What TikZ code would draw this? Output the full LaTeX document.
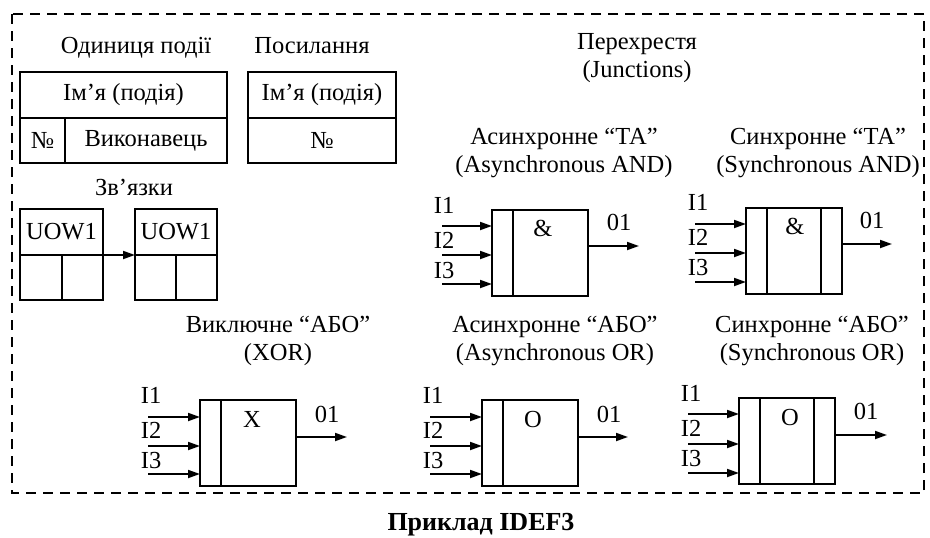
\documentclass[tikz,border=0pt]{standalone}
\usepackage{fontspec}
\setmainfont{Liberation Serif}
\usetikzlibrary{positioning, arrows.meta}

\begin{document}
\begin{tikzpicture}[
        x=1pt, y=-1pt,
        font=\fontsize{24.5}{28}\selectfont,
        >={Triangle[length=12pt, width=8pt]},
        line width=1.8pt,
        cell/.style={rectangle, draw, inner sep=0pt, outer sep=0pt},
        gate/.style={rectangle, draw, inner sep=0pt, outer sep=0pt, minimum width=96pt, minimum height=86pt},
        caption/.style={align=center, inner sep=0pt, anchor=base},
        lbl/.style={inner sep=0pt},
        frame/.style={dash pattern=on 10pt off 7pt},
        arrow/.style={->}
    ]
        \useasboundingbox (0,0) rectangle (930,538);

        % Frame and title
        \draw[frame] (12,14) rectangle (924,493);
        \node[caption, font=\fontsize{26}{30}\selectfont\bfseries] (title) at (481,530) {Приклад IDEF3};

        % Unit of work
        \node[caption] (uow-cap) at (136,53) {Одиниця події};
        \node[cell, minimum width=207pt, minimum height=46pt, anchor=north west] (uow-name) at (20,72) {Ім’я (подія)};
        \node[cell, minimum width=45pt, minimum height=45pt, anchor=north west] (uow-num) at (uow-name.south west) {№};
        \node[cell, minimum width=162pt, minimum height=45pt, anchor=north west] (uow-who) at (uow-num.north east) {Виконавець};

        % Reference
        \node[caption] (ref-cap) at (312,53) {Посилання};
        \node[cell, minimum width=148pt, minimum height=46pt, anchor=north west] (ref-name) at (248,72) {Ім’я (подія)};
        \node[cell, minimum width=148pt, minimum height=45pt, anchor=north] (ref-num) at (ref-name.south) {№};

        % Links
        \node[caption] (link-cap) at (134,195) {Зв’язки};
        \node[cell, minimum width=83pt, minimum height=46pt, anchor=north west] (src-name) at (20,209) {UOW1};
        \node[cell, minimum width=42pt, minimum height=45pt, anchor=north west] (src-a) at (src-name.south west) {};
        \node[cell, minimum width=41pt, minimum height=45pt, anchor=north west] (src-b) at (src-a.north east) {};
        \node[cell, minimum width=82pt, minimum height=46pt, anchor=north west] (dst-name) at (135,209) {UOW1};
        \node[cell, minimum width=41pt, minimum height=45pt, anchor=north west] (dst-a) at (dst-name.south west) {};
        \node[cell, minimum width=41pt, minimum height=45pt, anchor=north west] (dst-b) at (dst-a.north east) {};
        \draw[arrow] (src-name.south east) -- (dst-name.south west);

        % Junctions
        \node[caption] (junc-cap) at (637,77) {Перехрестя\\(Junctions)};

        % Asynchronous AND
        \node[caption] (and-a-cap) at (564,172) {Асинхронне “ТА”\\(Asynchronous AND)};
        \node[gate, anchor=north west] (and-a) at (492,210) {};
        \draw ([xshift=21pt]and-a.north west) -- ([xshift=21pt]and-a.south west);
        \node[lbl, anchor=base] (and-a-sym) at ([shift={(51,26)}]and-a.north west) {\&};
        \foreach \i/\ya/\yl in {1/16/3, 2/45/38, 3/74/68} {
            \coordinate (and-a-in\i) at ([shift={(-50,\ya)}]and-a.north west);
            \node[lbl, anchor=base west] (and-a-l\i) at ([shift={(-59,\yl)}]and-a.north west) {I\i};
            \draw[arrow] (and-a-in\i) -- (and-a-in\i -| and-a.west);
        }
        \coordinate (and-a-out) at ([shift={(51,36)}]and-a.north east);
        \draw[arrow] (and-a-out -| and-a.east) -- (and-a-out);
        \node[lbl, anchor=base west] (and-a-o) at ([shift={(18,20)}]and-a.north east) {01};

        % Synchronous AND
        \node[caption] (and-s-cap) at (818,172) {Синхронне “ТА”\\(Synchronous AND)};
        \node[gate, anchor=north west] (and-s) at (746,208) {};
        \draw ([xshift=21pt]and-s.north west) -- ([xshift=21pt]and-s.south west);
        \draw ([xshift=-21pt]and-s.north east) -- ([xshift=-21pt]and-s.south east);
        \node[lbl, anchor=base] (and-s-sym) at ([shift={(49,26)}]and-s.north west) {\&};
        \foreach \i/\ya/\yl in {1/16/2, 2/45/37, 3/74/67} {
            \coordinate (and-s-in\i) at ([shift={(-51,\ya)}]and-s.north west);
            \node[lbl, anchor=base west] (and-s-l\i) at ([shift={(-59,\yl)}]and-s.north west) {I\i};
            \draw[arrow] (and-s-in\i) -- (and-s-in\i -| and-s.west);
        }
        \coordinate (and-s-out) at ([shift={(50,36)}]and-s.north east);
        \draw[arrow] (and-s-out -| and-s.east) -- (and-s-out);
        \node[lbl, anchor=base west] (and-s-o) at ([shift={(17,20)}]and-s.north east) {01};

        % Exclusive OR
        \node[caption] (xor-cap) at (278,360) {Виключне “АБО”\\(XOR)};
        \node[gate, anchor=north west] (xor) at (200,400) {};
        \draw ([xshift=21pt]xor.north west) -- ([xshift=21pt]xor.south west);
        \node[lbl, anchor=base] (xor-sym) at ([shift={(52,27)}]xor.north west) {X};
        \foreach \i/\ya/\yl in {1/17/3, 2/46/38, 3/74/68} {
            \coordinate (xor-in\i) at ([shift={(-52,\ya)}]xor.north west);
            \node[lbl, anchor=base west] (xor-l\i) at ([shift={(-60,\yl)}]xor.north west) {I\i};
            \draw[arrow] (xor-in\i) -- (xor-in\i -| xor.west);
        }
        \coordinate (xor-out) at ([shift={(51,37)}]xor.north east);
        \draw[arrow] (xor-out -| xor.east) -- (xor-out);
        \node[lbl, anchor=base west] (xor-o) at ([shift={(18,22)}]xor.north east) {01};

        % Asynchronous OR
        \node[caption] (or-a-cap) at (555,360) {Асинхронне “АБО”\\(Asynchronous OR)};
        \node[gate, anchor=north west] (or-a) at (482,400) {};
        \draw ([xshift=21pt]or-a.north west) -- ([xshift=21pt]or-a.south west);
        \node[lbl, anchor=base] (or-a-sym) at ([shift={(51,27)}]or-a.north west) {O};
        \foreach \i/\ya/\yl in {1/17/3, 2/46/38, 3/74/68} {
            \coordinate (or-a-in\i) at ([shift={(-52,\ya)}]or-a.north west);
            \node[lbl, anchor=base west] (or-a-l\i) at ([shift={(-60,\yl)}]or-a.north west) {I\i};
            \draw[arrow] (or-a-in\i) -- (or-a-in\i -| or-a.west);
        }
        \coordinate (or-a-out) at ([shift={(50,37)}]or-a.north east);
        \draw[arrow] (or-a-out -| or-a.east) -- (or-a-out);
        \node[lbl, anchor=base west] (or-a-o) at ([shift={(18,22)}]or-a.north east) {01};

        % Synchronous OR
        \node[caption] (or-s-cap) at (812,360) {Синхронне “АБО”\\(Synchronous OR)};
        \node[gate, anchor=north west] (or-s) at (739,398) {};
        \draw ([xshift=21pt]or-s.north west) -- ([xshift=21pt]or-s.south west);
        \draw ([xshift=-21pt]or-s.north east) -- ([xshift=-21pt]or-s.south east);
        \node[lbl, anchor=base] (or-s-sym) at ([shift={(51,27)}]or-s.north west) {O};
        \foreach \i/\ya/\yl in {1/16/3, 2/46/38, 3/75/68} {
            \coordinate (or-s-in\i) at ([shift={(-51,\ya)}]or-s.north west);
            \node[lbl, anchor=base west] (or-s-l\i) at ([shift={(-59,\yl)}]or-s.north west) {I\i};
            \draw[arrow] (or-s-in\i) -- (or-s-in\i -| or-s.west);
        }
        \coordinate (or-s-out) at ([shift={(52,37)}]or-s.north east);
        \draw[arrow] (or-s-out -| or-s.east) -- (or-s-out);
        \node[lbl, anchor=base west] (or-s-o) at ([shift={(18,21)}]or-s.north east) {01};
    \end{tikzpicture}
\end{document}
